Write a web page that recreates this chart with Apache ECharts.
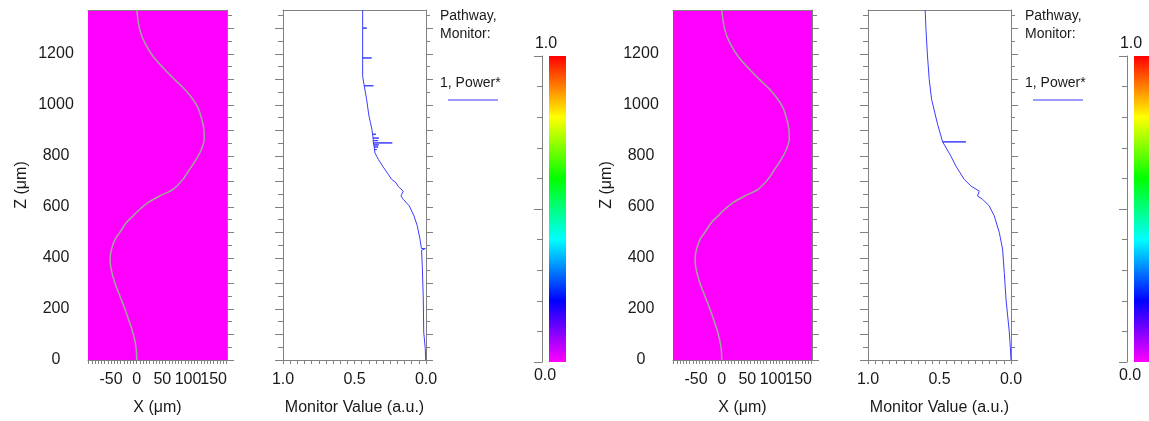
<!DOCTYPE html>
<html><head><meta charset="utf-8">
<script src="https://cdn.jsdelivr.net/npm/echarts@6/dist/echarts.min.js"></script>
<style>html,body{margin:0;padding:0;background:#fff}#c{width:1149px;height:421px}</style>
</head><body><div id="c"></div>
<script>
// ---- data ----
const zLabels = [0, 200, 400, 600, 800, 1000, 1200];
const xLabelsA = [-50, 50, 150];
const xLabelsB = [0, 100];
const monitorLabels = [0, 0.5, 1];
const colorbarLabels = ['1.0', '0.0'];
const legendTitle = ['Pathway,', 'Monitor:'];
const legendItem = '1, Power*';

// waveguide path (X in µm vs Z in µm)
const pathZ = [0, 44, 96, 148, 200, 252, 304, 357, 396, 435, 474, 500, 539, 565, 591, 617, 643, 669, 708, 747, 786, 825, 864, 903, 943, 995, 1047, 1099, 1138, 1190, 1242, 1294, 1372];
const pathX = [0, -1, -6, -14, -23, -33, -43, -50, -52, -49, -42, -33, -20, -7, 6, 22, 45, 71, 90, 103, 116, 126, 131.5, 131, 127, 118, 100, 74, 55, 32, 16, 6, 0];

// monitor 1 (left figure)
const monitorZ1 = [0, 44, 110, 239, 369, 430, 437, 437, 437, 474, 526, 565, 604, 630, 643, 662, 680, 695, 708, 741, 760, 786, 799, 812,
  825, 825, 825, 835, 835, 835, 843, 843, 843, 851, 851, 851, 860, 860, 860, 870, 870, 870, 885, 885, 885,
  903, 930, 960, 1021, 1075, 1075, 1075, 1112, 1184, 1184, 1184, 1301, 1301, 1301, 1372];
const monitorV1 = [0.002, 0.005, 0.016, 0.019, 0.026, 0.031, 0.032, 0.005, 0.032, 0.042, 0.061, 0.084, 0.117, 0.159, 0.175, 0.159, 0.194, 0.210, 0.240, 0.280, 0.303, 0.333, 0.345, 0.357,
  0.360, 0.345, 0.360, 0.362, 0.335, 0.362, 0.365, 0.330, 0.365, 0.368, 0.236, 0.368, 0.369, 0.335, 0.369, 0.370, 0.330, 0.370, 0.374, 0.350, 0.374,
  0.378, 0.388, 0.400, 0.415, 0.432, 0.368, 0.432, 0.443, 0.443, 0.380, 0.443, 0.443, 0.415, 0.443, 0.443];

// monitor 2 (right figure)
const monitorZ2 = [0, 44, 110, 239, 343, 435, 500, 565, 604, 630, 643, 662, 682, 708, 760, 799, 855, 855, 855, 923, 1021, 1100, 1200, 1300, 1372];
const monitorV2 = [0.0, 0.004, 0.012, 0.035, 0.047, 0.059, 0.082, 0.117, 0.152, 0.199, 0.234, 0.222, 0.280, 0.327, 0.385, 0.420, 0.478, 0.315, 0.478, 0.513, 0.555, 0.572, 0.585, 0.595, 0.600];

const monitors = [[monitorZ1, monitorV1], [monitorZ2, monitorV2]];

// ---- layout / style ----
const FONT = 'Liberation Sans, Arial, sans-serif';
const TXT = '#1a1a1a';
const GRAY = '#808080';
const offsets = [0, 585];

function range(a, b, s) { const r = []; for (let v = a; v <= b + 1e-9; v += s) r.push(+v.toFixed(4)); return r; }

const fieldXTicks = range(-93.75, 175, 6.25);
const monTicks = range(0, 1, 0.05);
const zLong = range(0, 1300, 100);
const zShort = range(50, 1350, 100);

const grid = [], xAxis = [], yAxis = [], series = [], graphic = [];
const txtStyle = { color: TXT, fontSize: 16, fontFamily: FONT };
const lineOn = { show: true, onZero: false, lineStyle: { color: GRAY } };
const lineOff = { show: false, onZero: false };
const labelOpts = { margin: 12, interval: 0, hideOverlap: false, showMinLabel: true, showMaxLabel: true, formatter: v => String(v), ...txtStyle };

offsets.forEach((dx, i) => {
  const gi = grid.length;
  grid.push({ left: 88 + dx, top: 10, width: 139, height: 351, show: true, backgroundColor: '#ff00ff', borderWidth: 0 });
  grid.push({ left: 283 + dx, top: 10, width: 143, height: 351, show: false });
  grid.push({ left: 549 + dx, top: 56, width: 17, height: 306, show: false });

  const xa = xAxis.length;
  xAxis.push({ gridIndex: gi, type: 'value', min: -95, max: 176, position: 'bottom',
    axisLine: lineOn,
    axisTick: { show: true, length: 4, customValues: fieldXTicks, lineStyle: { color: GRAY } },
    axisLabel: { customValues: xLabelsA, ...labelOpts },
    splitLine: { show: false },
    name: 'X (μm)', nameLocation: 'middle', nameGap: 40, nameTextStyle: txtStyle });   // xa
  xAxis.push({ gridIndex: gi, type: 'value', min: -95, max: 176, position: 'top',
    axisLine: lineOn, axisTick: { show: false }, axisLabel: { show: false }, splitLine: { show: false } }); // xa+1
  xAxis.push({ gridIndex: gi + 1, type: 'value', min: 0, max: 1, inverse: true, position: 'bottom',
    axisLine: lineOn,
    axisTick: { show: true, length: 4, customValues: monTicks, lineStyle: { color: GRAY } },
    axisLabel: { customValues: monitorLabels, ...labelOpts, formatter: v => v.toFixed(1) },
    splitLine: { show: false },
    name: 'Monitor Value (a.u.)', nameLocation: 'middle', nameGap: 40, nameTextStyle: txtStyle }); // xa+2
  xAxis.push({ gridIndex: gi + 1, type: 'value', min: 0, max: 1, inverse: true, position: 'top',
    axisLine: lineOn, axisTick: { show: false }, axisLabel: { show: false }, splitLine: { show: false } }); // xa+3
  xAxis.push({ gridIndex: gi + 2, type: 'category', data: ['c'], show: false }); // xa+4
  xAxis.push({ gridIndex: gi, type: 'value', min: -95, max: 176, position: 'bottom',
    axisLine: lineOff, axisTick: { show: false },
    axisLabel: { customValues: xLabelsB, ...labelOpts }, splitLine: { show: false } }); // xa+5

  const ya = yAxis.length;
  const zBase = { type: 'value', min: 0, max: 1372, splitLine: { show: false } };
  yAxis.push({ ...zBase, gridIndex: gi, position: 'left', axisLine: lineOff, axisTick: { show: false },
    axisLabel: { customValues: zLabels, ...labelOpts, align: 'center', margin: 32 },
    name: 'Z (μm)', nameLocation: 'middle', nameGap: 58, nameTextStyle: txtStyle });
  const tickAxis = (g, pos, vals, len, line) => ({ ...zBase, gridIndex: g, position: pos,
    axisLine: line ? lineOn : lineOff,
    axisTick: { show: true, length: len, customValues: vals, lineStyle: { color: GRAY } },
    axisLabel: { show: false } });
  yAxis.push(tickAxis(gi, 'right', zLong, 7, true));       // ya+1
  yAxis.push(tickAxis(gi, 'right', zShort, 5, false));     // ya+2
  yAxis.push(tickAxis(gi + 1, 'left', zLong, 8, true));    // ya+3
  yAxis.push(tickAxis(gi + 1, 'left', zShort, 5, false));  // ya+4
  yAxis.push(tickAxis(gi + 1, 'right', zLong, 7, true));   // ya+5
  yAxis.push(tickAxis(gi + 1, 'right', zShort, 4, false)); // ya+6
  yAxis.push({ gridIndex: gi + 2, type: 'value', min: 0, max: 1, position: 'left', offset: 7,
    axisLine: lineOn,
    axisTick: { show: true, length: 5, customValues: range(0, 1, 0.1), lineStyle: { color: GRAY } },
    axisLabel: { show: false }, splitLine: { show: false } });  // ya+7
  yAxis.push({ gridIndex: gi + 2, type: 'value', min: 0, max: 1, position: 'left', offset: 7,
    axisLine: lineOff, axisTick: { show: true, length: 8, customValues: [0, 0.5, 1], lineStyle: { color: GRAY } },
    axisLabel: { show: false }, splitLine: { show: false } });  // ya+8

  series.push({ type: 'line', xAxisIndex: xa, yAxisIndex: ya, data: pathX.map((x, k) => [x, pathZ[k]]),
    symbol: 'none', smooth: 0.3, lineStyle: { color: '#9aaa96', width: 1.5 }, silent: true });
  const [mz, mv] = monitors[i];
  series.push({ type: 'line', xAxisIndex: xa + 2, yAxisIndex: ya + 3, data: mv.map((v, k) => [v, mz[k]]),
    symbol: 'none', lineStyle: { color: '#3c3cff', width: 1 }, silent: true });
  series.push({ type: 'bar', xAxisIndex: xa + 4, yAxisIndex: ya + 7, data: [1], barWidth: '100%', silent: true,
    itemStyle: { color: new echarts.graphic.LinearGradient(0, 1, 0, 0, [
      { offset: 0, color: '#ff00ff' }, { offset: 0.2, color: '#0000ff' }, { offset: 0.4, color: '#00ffff' },
      { offset: 0.6, color: '#00ff00' }, { offset: 0.8, color: '#ffff00' }, { offset: 1, color: '#ff0000' }]) } });

  // legend block
  graphic.push({ type: 'text', left: 440 + dx, top: 9, style: { text: legendTitle[0], fill: TXT, font: '14px ' + FONT } });
  graphic.push({ type: 'text', left: 440 + dx, top: 27, style: { text: legendTitle[1], fill: TXT, font: '14px ' + FONT } });
  graphic.push({ type: 'text', left: 440 + dx, top: 76, style: { text: legendItem, fill: TXT, font: '14px ' + FONT } });
  graphic.push({ type: 'line', shape: { x1: 448 + dx, y1: 100, x2: 498 + dx, y2: 100 }, style: { stroke: '#9c9cff', lineWidth: 2 } });
  // colorbar end labels
  graphic.push({ type: 'text', x: 546 + dx, y: 44, style: { text: colorbarLabels[0], fill: TXT, font: '16px ' + FONT, align: 'center', verticalAlign: 'middle' } });
  graphic.push({ type: 'text', x: 545 + dx, y: 376, style: { text: colorbarLabels[1], fill: TXT, font: '16px ' + FONT, align: 'center', verticalAlign: 'middle' } });
});

const chart = echarts.init(document.getElementById('c'));
chart.setOption({ animation: false, backgroundColor: '#fff', grid, xAxis, yAxis, series, graphic });
</script></body></html>
